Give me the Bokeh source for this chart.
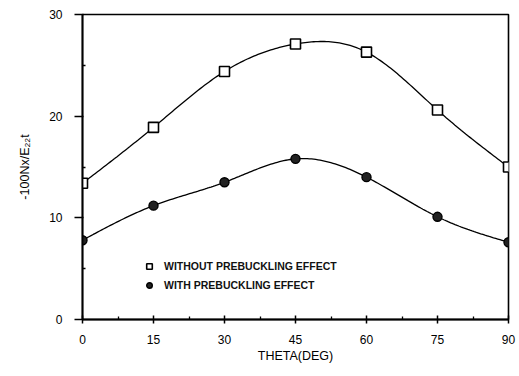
import numpy as np
from bokeh.plotting import figure
from bokeh.models import Range1d, FixedTicker, Legend, LegendItem
from bokeh.embed import file_html
from bokeh.resources import INLINE

# Fiber angle (degrees) and normalised buckling load
theta = [0, 15, 30, 45, 60, 75, 90]
without_prebuckling = [13.4, 18.9, 24.4, 27.1, 26.3, 20.6, 15.0]
with_prebuckling = [7.8, 11.2, 13.5, 15.8, 14.0, 10.1, 7.6]

x_ticks = [0, 15, 30, 45, 60, 75, 90]
y_ticks = [0, 10, 20, 30]
legend_labels = ["WITHOUT PREBUCKLING EFFECT", "WITH PREBUCKLING EFFECT"]

FONT = "Liberation Sans"


def natural_spline(xs, ys, n=200):
    """Smooth curve through the given points (natural cubic spline)."""
    xs = np.asarray(xs, float)
    ys = np.asarray(ys, float)
    k = len(xs)
    h = np.diff(xs)
    A = np.zeros((k, k))
    b = np.zeros(k)
    A[0, 0] = A[-1, -1] = 1.0
    for i in range(1, k - 1):
        A[i, i - 1] = h[i - 1]
        A[i, i] = 2 * (h[i - 1] + h[i])
        A[i, i + 1] = h[i]
        b[i] = 6 * ((ys[i + 1] - ys[i]) / h[i] - (ys[i] - ys[i - 1]) / h[i - 1])
    m = np.linalg.solve(A, b)
    xf = np.linspace(xs[0], xs[-1], n)
    idx = np.clip(np.searchsorted(xs, xf) - 1, 0, k - 2)
    x0, x1 = xs[idx], xs[idx + 1]
    hh = x1 - x0
    t0, t1 = x1 - xf, xf - x0
    yf = (m[idx] * t0 ** 3 + m[idx + 1] * t1 ** 3) / (6 * hh) \
        + (ys[idx] / hh - m[idx] * hh / 6) * t0 \
        + (ys[idx + 1] / hh - m[idx + 1] * hh / 6) * t1
    return xf, yf


p = figure(
    width=519, height=376,
    frame_width=426, frame_height=305,
    min_border_left=82, min_border_right=11,
    min_border_top=14, min_border_bottom=57,
    output_backend="svg", toolbar_location=None,
    x_range=Range1d(0, 90), y_range=Range1d(0, 30),
)
p.grid.visible = False
p.background_fill_color = "white"
p.border_fill_color = "white"
p.outline_line_color = "black"
p.outline_line_width = 1.6

# axes
for ax in (p.xaxis[0], p.yaxis[0]):
    ax.axis_line_width = 1.8
    ax.axis_line_color = "black"
    ax.major_tick_line_width = 1.5
    ax.minor_tick_line_width = 1.3
    ax.major_label_text_font = FONT
    ax.major_label_text_font_size = "12px"
    ax.major_label_text_color = "black"
    ax.axis_label_text_font = FONT
    ax.axis_label_text_font_style = "normal"
    ax.axis_label_text_font_size = "12.5px"
    ax.axis_label_text_color = "black"

p.xaxis.ticker = FixedTicker(ticks=x_ticks,
                             minor_ticks=[7.5, 22.5, 37.5, 52.5, 67.5, 82.5])
p.xaxis.major_tick_in = 4
p.xaxis.major_tick_out = 4
p.xaxis.minor_tick_in = 3
p.xaxis.minor_tick_out = 0
p.xaxis.major_label_standoff = 11
p.xaxis.axis_label = "THETA(DEG)"
p.xaxis.axis_label_standoff = 2

p.yaxis.ticker = FixedTicker(ticks=y_ticks, minor_ticks=[5, 15, 25])
p.yaxis.major_tick_in = 1
p.yaxis.major_tick_out = 8
p.yaxis.minor_tick_in = 3
p.yaxis.minor_tick_out = 0
p.yaxis.major_label_standoff = 12
p.yaxis.axis_label = "-100Nx/E₂₂t"
p.yaxis.axis_label_standoff = 14

# smooth curves through the data
xs1, ys1 = natural_spline(theta, without_prebuckling)
xs2, ys2 = natural_spline(theta, with_prebuckling)
p.line(xs1, ys1, line_color="black", line_width=1.3)
p.line(xs2, ys2, line_color="black", line_width=1.3)

sq = p.scatter(theta, without_prebuckling, marker="square", size=10,
               fill_color="white", line_color="black", line_width=1.6)
ci = p.scatter(theta, with_prebuckling, marker="circle", size=9,
               fill_color="#222222", line_color="black", line_width=1.4)

legend = Legend(
    items=[LegendItem(label=legend_labels[0], renderers=[sq]),
           LegendItem(label=legend_labels[1], renderers=[ci])],
    location=(56, 23),
    background_fill_alpha=0,
    border_line_alpha=0,
    label_text_font=FONT,
    label_text_font_size="10.5px",
    label_text_font_style="bold",
    label_text_color="#111111",
    glyph_width=14, glyph_height=14,
    spacing=5, label_standoff=8, padding=4, margin=0,
)
p.add_layout(legend, "center")

open("out.html", "w").write(file_html(p, INLINE))
